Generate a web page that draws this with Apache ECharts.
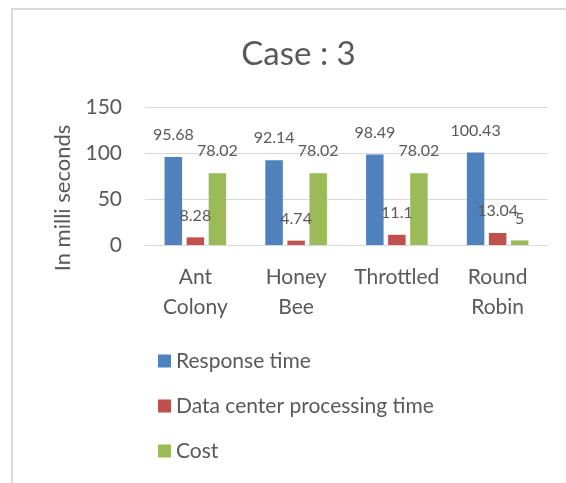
<!DOCTYPE html>
<html>
<head>
<meta charset="utf-8">
<script src="https://cdn.jsdelivr.net/npm/echarts@6/dist/echarts.min.js"></script>
<style>
html,body{margin:0;padding:0;background:#fff;}
#c{width:566px;height:483px;}
</style>
</head>
<body>
<div id="c"></div>
<script>
const categories = ['Ant\nColony', 'Honey\nBee', 'Throttled', 'Round\nRobin'];
const responseTime = [95.68, 92.14, 98.49, 100.43];
const processingTime = [8.28, 4.74, 11.1, 13.04];
const cost = [78.02, 78.02, 78.02, 5];
const seriesNames = ['Response time', 'Data center processing time', 'Cost'];
const colors = ['#4f81bd', '#c0504d', '#9bbb59'];
const titleText = 'Case : 3';
const yAxisName = 'In milli seconds';

const FONT = 'Lato';
const TXT = '#595959';

const chart = echarts.init(document.getElementById('c'), null, {renderer: 'canvas'});

function barSeries(name, data, color) {
  return {
    name: name,
    type: 'bar',
    data: data,
    barWidth: 17.5,
    barGap: '26%',
    itemStyle: {color: color},
    label: {
      show: true,
      position: 'top',
      distance: 14,
      color: TXT,
      fontFamily: FONT,
      fontSize: 16,
      lineHeight: 16
    }
  };
}

chart.setOption({
  animation: false,
  color: colors,
  textStyle: {fontFamily: FONT},
  title: {
    text: titleText,
    left: 293.5,
    top: 33,
    textAlign: 'center',
    textStyle: {fontFamily: FONT, fontSize: 33, fontWeight: 'normal', color: TXT}
  },
  graphic: [
    {
      type: 'rect',
      z: -10,
      silent: true,
      shape: {x: 12, y: 9, width: 620, height: 520},
      style: {fill: 'none', stroke: '#d9d9d9', lineWidth: 2}
    },
    {
      type: 'text',
      x: 63,
      y: 198,
      rotation: Math.PI / 2,
      style: {
        text: yAxisName,
        fontFamily: FONT,
        fontSize: 22,
        fill: TXT,
        align: 'center',
        verticalAlign: 'middle'
      }
    }
  ],
  legend: {
    orient: 'vertical',
    left: 153,
    top: 345.5,
    itemWidth: 13,
    itemHeight: 13,
    itemGap: 24,
    icon: 'rect',
    textStyle: {fontFamily: FONT, fontSize: 21, color: TXT},
    data: seriesNames
  },
  grid: {left: 145, right: 18, top: 107, bottom: 238, containLabel: false},
  xAxis: {
    type: 'category',
    data: categories,
    axisLine: {show: true, lineStyle: {color: '#d9d9d9', width: 1}},
    axisTick: {show: false},
    axisLabel: {
      color: TXT,
      fontFamily: FONT,
      fontSize: 21,
      lineHeight: 30,
      margin: 17,
      interval: 0
    }
  },
  yAxis: {
    type: 'value',
    min: 0,
    max: 150,
    interval: 50,
    axisLine: {show: false},
    axisTick: {show: false},
    splitLine: {lineStyle: {color: '#d9d9d9', width: 1}},
    axisLabel: {color: TXT, fontFamily: FONT, fontSize: 21, margin: 23}
  },
  series: [
    barSeries(seriesNames[0], responseTime, colors[0]),
    barSeries(seriesNames[1], processingTime, colors[1]),
    barSeries(seriesNames[2], cost, colors[2])
  ]
});
</script>
</body>
</html>
